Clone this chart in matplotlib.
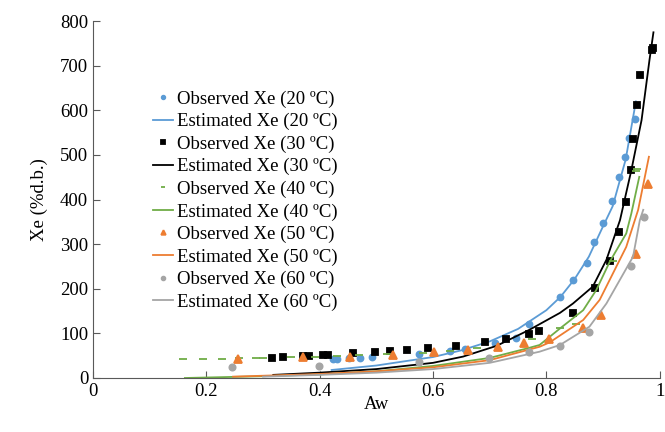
import matplotlib
matplotlib.use('Agg')
import matplotlib.pyplot as plt

plt.rcParams['font.family'] = ['Liberation Serif', 'DejaVu Serif']

# observed data (aw, Xe %d.b.)
obs20_aw = [0.424, 0.43, 0.451, 0.471, 0.492, 0.576, 0.630, 0.656, 0.709, 0.747, 0.770,
            0.824, 0.847, 0.872, 0.884, 0.900, 0.915, 0.929, 0.938, 0.946, 0.956]
obs20_xe = [43, 42, 44, 45, 46, 54, 60, 66, 78, 90, 120,
            182, 220, 257, 306, 347, 397, 451, 496, 539, 580]

obs30_aw = [0.316, 0.336, 0.371, 0.381, 0.406, 0.415, 0.459, 0.498, 0.524, 0.554, 0.591,
            0.641, 0.691, 0.728, 0.769, 0.787, 0.847, 0.885, 0.912, 0.928, 0.940,
            0.950, 0.953, 0.960, 0.966, 0.987, 0.989]
obs30_xe = [45, 46, 49, 50, 51, 52, 55, 58, 60, 63, 67,
            72, 80, 87, 99, 105, 146, 201, 263, 327, 395,
            466, 536, 611, 679, 735, 740]

obs40_aw = [0.159, 0.194, 0.227, 0.257, 0.288, 0.30, 0.35, 0.392, 0.43, 0.47, 0.518,
            0.583, 0.63, 0.677, 0.774, 0.824, 0.853, 0.918, 0.958, 0.96]
obs40_xe = [42, 43, 43, 44, 44, 45, 46, 48, 50, 51, 53,
            55, 61, 67, 87, 111, 122, 263, 463, 468]

obs50_aw = [0.256, 0.371, 0.453, 0.529, 0.601, 0.662, 0.715, 0.760, 0.805, 0.864, 0.896,
            0.958, 0.980]
obs50_xe = [42, 46, 48, 52, 58, 63, 69, 78, 87, 113, 141, 278, 436]

obs60_aw = [0.246, 0.399, 0.576, 0.699, 0.770, 0.824, 0.875, 0.950, 0.972]
obs60_xe = [25, 28, 35, 44, 58, 72, 104, 250, 360]

# estimated (model) curves
est20_aw = [0.421, 0.5, 0.6, 0.65, 0.7, 0.75, 0.8, 0.825, 0.85, 0.875, 0.9, 0.917, 0.94, 0.958]
est20_xe = [18, 28, 47, 62, 82, 110, 152, 182, 222, 272, 340, 385, 490, 620]

est30_aw = [0.318, 0.4, 0.5, 0.6, 0.653, 0.712, 0.77, 0.824, 0.847, 0.882, 0.906, 0.93,
            0.95, 0.968, 0.982, 0.989]
est30_xe = [7, 12, 20, 34, 48, 72, 108, 146, 167, 205, 265, 354, 466, 578, 713, 775]

est40_aw = [0.162, 0.3, 0.4, 0.5, 0.6, 0.7, 0.765, 0.788, 0.824, 0.865, 0.888, 0.912,
            0.941, 0.95, 0.964]
est40_xe = [0, 4, 8, 15, 27, 45, 66, 74, 111, 152, 197, 261, 324, 369, 451]

est50_aw = [0.247, 0.4, 0.5, 0.6, 0.7, 0.788, 0.806, 0.865, 0.894, 0.941, 0.962, 0.981]
est50_xe = [3, 9, 15, 24, 40, 70, 80, 130, 175, 294, 377, 496]

est60_aw = [0.3, 0.4, 0.5, 0.6, 0.7, 0.788, 0.824, 0.876, 0.906, 0.953, 0.965, 0.971]
est60_xe = [3, 7, 12, 20, 34, 59, 74, 115, 167, 272, 354, 377]

temps = ['20', '30', '40', '50', '60']
colors = ['#5B9BD5', '#000000', '#70AD47', '#ED7D31', '#A5A5A5']
markers = ['o', 's', '_', '^', 'o']
msizes = [4.3, 4.8, 6, 5.5, 4.5]
obs = [(obs20_aw, obs20_xe), (obs30_aw, obs30_xe), (obs40_aw, obs40_xe),
       (obs50_aw, obs50_xe), (obs60_aw, obs60_xe)]
est = [(est20_aw, est20_xe), (est30_aw, est30_xe), (est40_aw, est40_xe),
       (est50_aw, est50_xe), (est60_aw, est60_xe)]

fig = plt.figure(figsize=(6.65, 4.32), dpi=100)
ax = fig.add_axes([0.140, 0.125, 0.852, 0.826])

for i in range(5):
    ax.plot(obs[i][0], obs[i][1], linestyle='none', marker=markers[i],
            color=colors[i], markersize=msizes[i], markeredgewidth=1.3,
            label='Observed Xe (%s ºC)' % temps[i])
    ax.plot(est[i][0], est[i][1], color=colors[i], linewidth=1.3,
            label='Estimated Xe (%s ºC)' % temps[i])

ax.set_xlim(0, 1)
ax.set_ylim(0, 800)
ax.set_xticks([0, 0.2, 0.4, 0.6, 0.8, 1])
ax.set_xticklabels(['0', '0.2', '0.4', '0.6', '0.8', '1'])
ax.set_yticks(range(0, 801, 100))
ax.spines['top'].set_visible(False)
ax.spines['right'].set_visible(False)
for s in ['left', 'bottom']:
    ax.spines[s].set_color('#595959')
ax.tick_params(direction='in', length=5, color='#595959', labelsize=13.5)
ax.set_xlabel('Aw', fontsize=13.5, labelpad=-3)
ax.set_ylabel('Xe (%d.b.)', fontsize=13.5, labelpad=9)

leg = ax.legend(loc='upper left', bbox_to_anchor=(0.105, 0.806), frameon=False,
                fontsize=13.5, handlelength=1.1, handletextpad=0.2,
                labelspacing=0.28, borderpad=0, borderaxespad=0, markerscale=0.6)

plt.savefig('out.png', dpi=100)
